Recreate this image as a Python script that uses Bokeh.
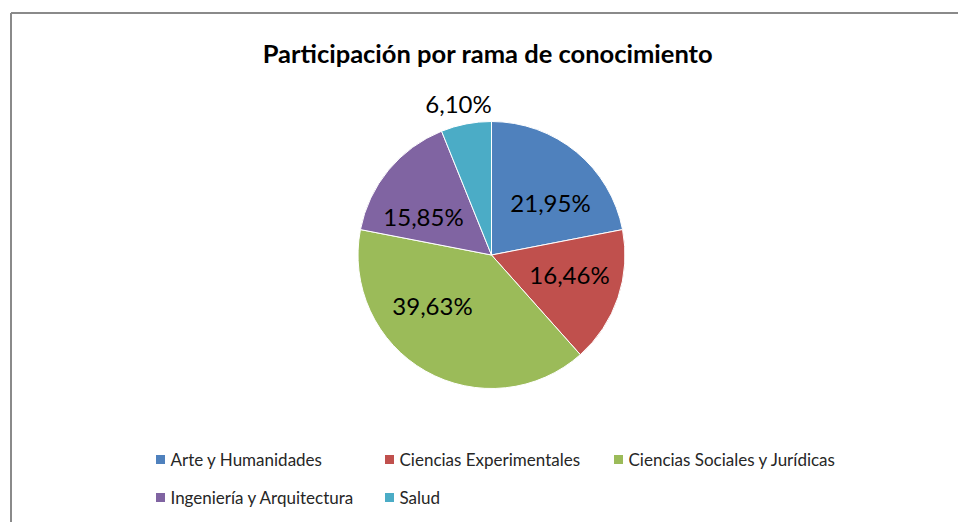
import numpy as np
from bokeh.plotting import figure
from bokeh.models import Range1d
from bokeh.core.properties import value
from bokeh.embed import file_html
from bokeh.resources import INLINE

# ---- data ----
title = "Participación  por rama de conocimiento"
categories = ["Arte y Humanidades", "Ciencias Experimentales",
              "Ciencias Sociales y Jurídicas", "Ingeniería y Arquitectura", "Salud"]
shares = [21.95, 16.46, 39.63, 15.85, 6.10]
labels = ["21,95%", "16,46%", "39,63%", "15,85%", "6,10%"]
colors = ["#4F81BD", "#C0504D", "#9BBB59", "#8064A2", "#4BACC6"]

# ---- layout (page pixels) ----
W, H = 958, 522
cx, cy, R = 491, 254.5, 133.5
# label baseline offsets from pie centre (Excel "best fit" placement)
label_offsets = [(59, -46), (78, 25.5), (-59, 57), (-68, -32), (-33, -145)]
FONT = "Lato"
BFIX = -6.5  # renderer baseline correction

def py(y):
    return H - y

p = figure(width=W, height=H, output_backend="svg", toolbar_location=None,
           x_range=Range1d(0, W), y_range=Range1d(0, H),
           min_border=0, outline_line_color=None)
p.axis.visible = False
p.grid.visible = False
p.background_fill_color = "white"
p.border_fill_color = "white"

# chart border (cropped at right/bottom)
p.segment(x0=[10.5, 10.5], y0=[py(12.5), py(12.5)], x1=[970, 10.5], y1=[py(12.5), py(540)],
          line_color="#8a8a8a", line_width=2)

# pie
vals = np.array(shares, dtype=float)
frac = vals / vals.sum()
cum = np.concatenate([[0], np.cumsum(frac)])
start = np.pi / 2 - 2 * np.pi * cum[:-1]
end = np.pi / 2 - 2 * np.pi * cum[1:]
p.wedge(x=[cx] * len(vals), y=[py(cy)] * len(vals), radius=R,
        start_angle=list(start), end_angle=list(end), direction="clock",
        fill_color=colors, line_color="white", line_width=1)

# data labels
lx = [cx + dx for dx, dy in label_offsets]
ly = [py(cy + dy + BFIX) for dx, dy in label_offsets]
p.text(x=lx, y=ly, text=labels, text_align="center", text_baseline="alphabetic",
       text_font=value(FONT), text_font_size="24px", text_color="black")

# title
p.text(x=[490.5], y=[py(58.5 + BFIX)], text=[title], text_align="center", text_baseline="alphabetic",
       text_font=value(FONT), text_font_size="25.5px", text_font_style="bold", text_color="black")

# legend
col_x = [155, 384, 613]
row_base = [463.5, 501.5]
sx, sy, tx, ty = [], [], [], []
for i, c in enumerate(categories):
    x0 = col_x[i % 3]
    yb = row_base[i // 3]
    sx.append(x0 + 5)
    sy.append(py(yb - 4.5))
    tx.append(x0 + 15)
    ty.append(py(yb + BFIX + 1.5))
p.rect(x=sx, y=sy, width=9, height=9, fill_color=colors, line_color=None)
p.text(x=tx, y=ty, text=categories, text_align="left", text_baseline="alphabetic",
       text_font=value(FONT), text_font_size="17px", text_color="#262626")

open("out.html", "w").write(file_html(p, INLINE))
